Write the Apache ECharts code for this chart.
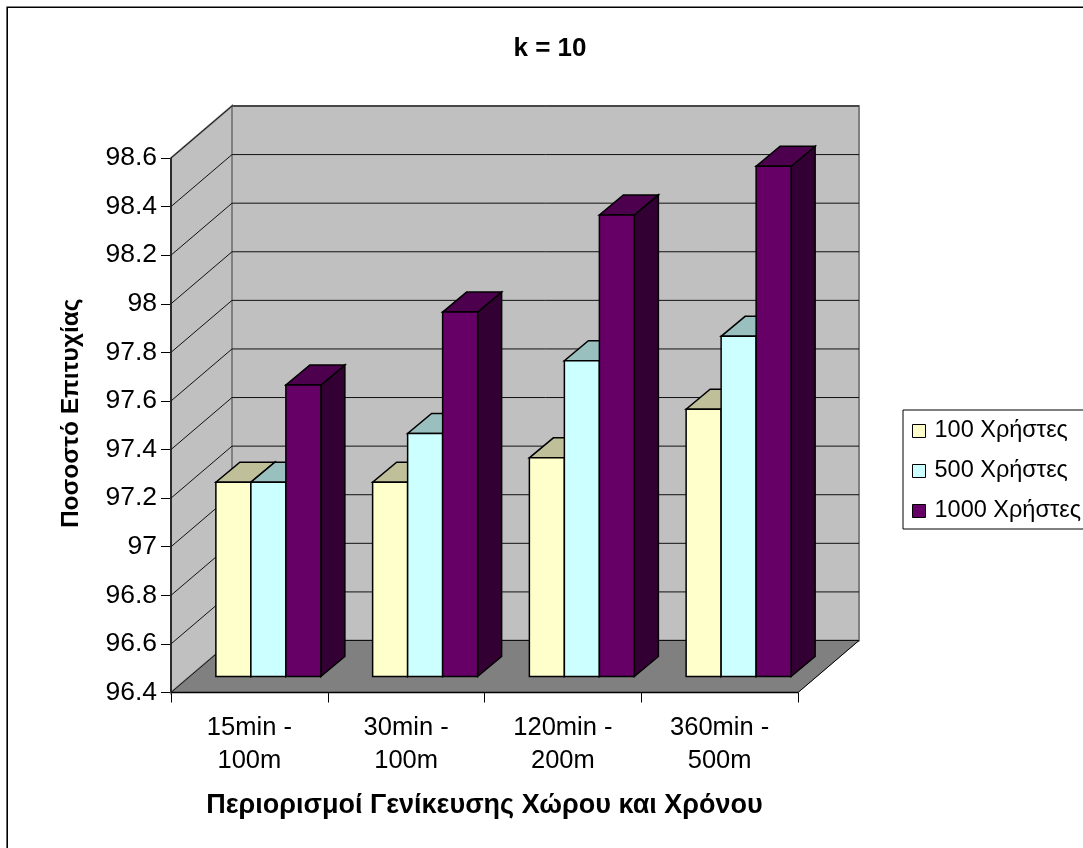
<!DOCTYPE html>
<html>
<head>
<meta charset="utf-8">
<style>html,body{margin:0;padding:0;background:#fff}#chart{width:1083px;height:848px}</style>
<script src="https://cdn.jsdelivr.net/npm/echarts@6/dist/echarts.min.js"></script>
</head>
<body>
<div id="chart"></div>
<script>
const categories = ['15min -\n100m', '30min -\n100m', '120min -\n200m', '360min -\n500m'];
const users100 = [97.2, 97.2, 97.3, 97.5];
const users500 = [97.2, 97.4, 97.7, 97.8];
const users1000 = [97.6, 97.9, 98.3, 98.5];
const yMin = 96.4, yMax = 98.6, yStep = 0.2;
const yTicks = [96.4, 96.6, 96.8, 97, 97.2, 97.4, 97.6, 97.8, 98, 98.2, 98.4, 98.6];

// Oblique projection: how far the box recedes, and where the bars sit inside it.
const DEPTH = [61, -52];
const BAR_DEPTH = [24, -20];
const BAR_SHIFT = [19, -16];
const BAR_W = 35;

const FONT = '"Liberation Sans", Arial, sans-serif';

function polygon(pts, fill, stroke, lw) {
  return {type: 'polygon', shape: {points: pts}, style: {fill: fill, stroke: stroke, lineWidth: lw}};
}

function edge(x1, y1, x2, y2, color, lw) {
  return {type: 'line', shape: {x1: x1, y1: y1, x2: x2, y2: y2}, style: {stroke: color, lineWidth: lw}};
}

// Side wall, back wall and floor, with the dark front edges on top.
function renderWalls(params, api) {
  const c = params.coordSys;
  const l = c.x, r = c.x + c.width, t = c.y, b = c.y + c.height;
  const [dx, dy] = DEPTH;
  return {type: 'group', children: [
    polygon([[l + dx, t + dy], [r + dx, t + dy], [r + dx, b + dy], [l + dx, b + dy]], '#C0C0C0', '#808080', 2),
    polygon([[l, t], [l + dx, t + dy], [l + dx, b + dy], [l, b]], '#C0C0C0', '#808080', 2),
    polygon([[l, b], [r, b], [r + dx, b + dy], [l + dx, b + dy]], '#808080', '#808080', 1),
    edge(r, b, r + dx, b + dy, '#000', 1),
    edge(l, t, l, b, '#000', 1.3),
    edge(l, b, r, b, '#000', 1.3)
  ]};
}

// One gridline per tick, running up the side wall and across the back wall.
function renderGridline(params, api) {
  const c = params.coordSys;
  const y = api.coord([0, api.value(0)])[1];
  const [dx, dy] = DEPTH;
  return {type: 'polyline',
    shape: {points: [[c.x, y], [c.x + dx, y + dy], [c.x + c.width + dx, y + dy]]},
    style: {fill: 'none', stroke: '#111', lineWidth: 1}};
}

// A bar as three faces: front, top and right side.
function barRenderer(slot, topFill, sideFill, frontFill) {
  return function (params, api) {
    const idx = api.value(0);
    const top = api.coord([idx, api.value(1)]);
    const base = api.coord([idx, yMin]);
    const x0 = top[0] + BAR_SHIFT[0] + (slot - 1.5) * BAR_W;
    const x1 = x0 + BAR_W;
    const yT = top[1] + BAR_SHIFT[1];
    const yB = base[1] + BAR_SHIFT[1];
    const [dx, dy] = BAR_DEPTH;
    return {type: 'group', children: [
      polygon([[x1, yT], [x1 + dx, yT + dy], [x1 + dx, yB + dy], [x1, yB]], sideFill, '#000', 1.5),
      polygon([[x0, yT], [x1, yT], [x1 + dx, yT + dy], [x0 + dx, yT + dy]], topFill, '#000', 1.5),
      polygon([[x0, yT], [x1, yT], [x1, yB], [x0, yB]], frontFill, '#000', 1.5)
    ]};
  };
}

function barSeries(name, values, slot, front, top, side) {
  return {
    name: name, type: 'custom', z: 3,
    itemStyle: {color: front},
    renderItem: barRenderer(slot, top, side, front),
    encode: {x: 0, y: 1},
    data: values.map((v, i) => [i, v])
  };
}

const chart = echarts.init(document.getElementById('chart'), null, {renderer: 'canvas'});
chart.setOption({
  animation: false,
  backgroundColor: '#fff',
  textStyle: {fontFamily: FONT, color: '#000'},
  title: {
    text: 'k = 10', left: 545, top: 31, textAlign: 'center',
    textStyle: {fontFamily: FONT, fontSize: 26, fontWeight: 'bold', color: '#000'}
  },
  // The chart frame shows along its left and top sides only.
  graphic: [{
    type: 'polyline', silent: true,
    shape: {points: [[7.2, 848], [7.2, 7.2], [1083, 7.2]]},
    style: {fill: 'none', stroke: '#000', lineWidth: 1.6}
  }],
  legend: {
    left: 903, top: 410,
    orient: 'vertical',
    icon: 'rect', itemWidth: 13, itemHeight: 13, itemGap: 16,
    padding: [9, 12, 6, 9],
    itemStyle: {borderColor: '#000', borderWidth: 1},
    borderColor: '#000', borderWidth: 1, backgroundColor: '#fff',
    textStyle: {fontFamily: FONT, fontSize: 23.5, color: '#000', padding: [0, 0, 0, 4]},
    data: ['100 Χρήστες', '500 Χρήστες', '1000 Χρήστες']
  },
  grid: {left: 171, top: 158, width: 627, height: 534.5},
  xAxis: {
    type: 'category', data: categories,
    axisLine: {show: true, onZero: false, lineStyle: {color: '#000', width: 1}},
    axisTick: {show: true, length: 10, lineStyle: {color: '#000', width: 1}},
    axisLabel: {fontFamily: FONT, fontSize: 25.5, color: '#000', margin: 19, lineHeight: 33},
    name: 'Περιορισμοί Γενίκευσης Χώρου και Χρόνου',
    nameLocation: 'middle', nameGap: 100,
    nameTextStyle: {fontFamily: FONT, fontSize: 27, fontWeight: 'bold', color: '#000'}
  },
  yAxis: {
    type: 'value', min: yMin, max: yMax, interval: yStep,
    splitLine: {show: false},
    axisLine: {show: true, onZero: false, lineStyle: {color: '#000', width: 1}},
    axisTick: {show: true, length: 10, lineStyle: {color: '#000', width: 1}},
    axisLabel: {fontFamily: FONT, fontSize: 26.5, color: '#000', margin: 14},
    name: 'Ποσοστό Επιτυχίας',
    nameLocation: 'middle', nameGap: 87, nameRotate: 90,
    nameTextStyle: {fontFamily: FONT, fontSize: 24.5, fontWeight: 'bold', color: '#000', padding: [0, 0, 0, 24]}
  },
  series: [
    {type: 'custom', z: 1, silent: true, renderItem: renderWalls, data: [[0]], legendHoverLink: false},
    {type: 'custom', z: 2, silent: true, renderItem: renderGridline, encode: {y: 0}, data: yTicks.map(v => [v])},
    barSeries('100 Χρήστες', users100, 0, '#FFFFCC', '#BFBF99', '#99997A'),
    barSeries('500 Χρήστες', users500, 1, '#CCFFFF', '#99BFBF', '#7A9999'),
    barSeries('1000 Χρήστες', users1000, 2, '#660066', '#4D004D', '#330033')
  ]
});
</script>
</body>
</html>
